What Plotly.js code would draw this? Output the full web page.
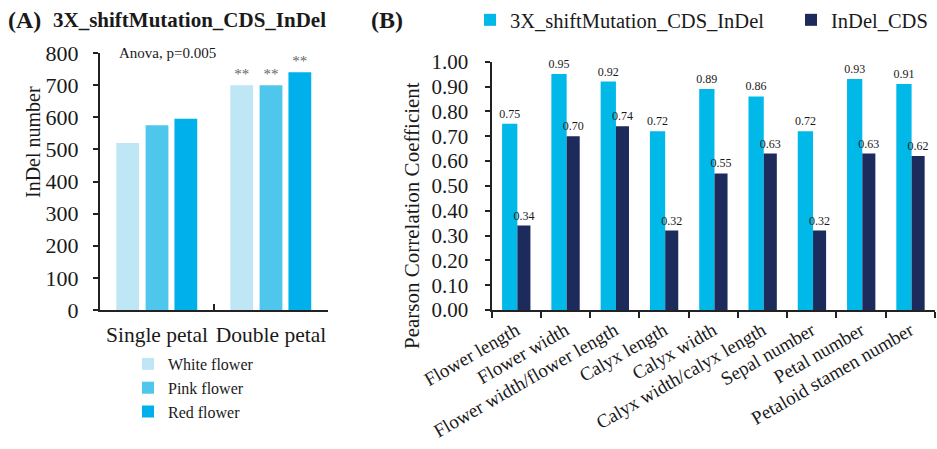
<!DOCTYPE html>
<html>
<head>
<meta charset="utf-8">
<script src="https://cdn.plot.ly/plotly-3.0.1.min.js"></script>
<style>
  html, body { margin: 0; padding: 0; background: #ffffff; }
  #chart { width: 937px; height: 449px; }
</style>
</head>
<body>
<div id="chart"></div>
<script>
// Panel A: InDel counts by petal type and flower colour
const petalTypes = ['Single petal', 'Double petal'];
const whiteFlower = [520, 700];
const pinkFlower = [575, 700];
const redFlower = [595, 740];
const significance = ['', '**'];
const countTicks = [0, 100, 200, 300, 400, 500, 600, 700, 800];

// Panel B: Pearson correlation of InDel sets with floral traits
const traits = ['Flower length', 'Flower width', 'Flower width/flower length', 'Calyx length',
  'Calyx width', 'Calyx width/calyx length', 'Sepal number', 'Petal number', 'Petaloid stamen number'];
const shiftMutationInDel = [0.75, 0.95, 0.92, 0.72, 0.89, 0.86, 0.72, 0.93, 0.91];
const cdsInDel = [0.34, 0.70, 0.74, 0.32, 0.55, 0.63, 0.32, 0.63, 0.62];

const W = 937, H = 449;
const px = x => x / W;            // horizontal pixel -> paper
const py = y => (H - y) / H;      // vertical pixel (from top) -> paper

const serif = "'Liberation Serif', 'Times New Roman', serif";
const ink = '#1a1a1a';

const barA = (name, y, color, offset) => ({
  type: 'bar', name: name, x: petalTypes, y: y,
  xaxis: 'x', yaxis: 'y', legend: 'legend2',
  marker: { color: color, line: { width: 0 } },
  offset: offset, width: 0.2,
  text: significance, textposition: 'outside', cliponaxis: false, constraintext: 'none',
  textfont: { family: serif, size: 15, color: '#666666' },
  hoverinfo: 'skip'
});

const barB = (name, y, color, offset, width, legendId) => ({
  type: 'bar', name: name, x: traits, y: y,
  xaxis: 'x2', yaxis: 'y2', legend: legendId,
  marker: { color: color, line: { width: 0 } },
  offset: offset, width: width,
  texttemplate: '%{y:.2f}', textposition: 'outside', cliponaxis: false, constraintext: 'none',
  textfont: { family: serif, size: 12, color: ink },
  hoverinfo: 'skip'
});

const data = [
  barA('White flower', whiteFlower, '#BEE6F5', -0.357),
  barA('Pink flower', pinkFlower, '#4FC6EB', -0.1),
  barA('Red flower', redFlower, '#00B0EA', 0.153),
  barB('3X_shiftMutation_CDS_InDel', shiftMutationInDel, '#00B9E8', -0.285, 0.31, 'legend'),
  barB('InDel_CDS', cdsInDel, '#1C2A5C', 0.025, 0.265, 'legend3')
];

const legendFontB = { family: serif, size: 20.5, color: ink };

const layout = {
  width: W, height: H,
  margin: { l: 0, r: 0, t: 0, b: 0 },
  paper_bgcolor: '#ffffff', plot_bgcolor: '#ffffff',
  font: { family: serif, color: ink },
  barmode: 'overlay',
  showlegend: true,
  title: {
    text: '<b>3X_shiftMutation_CDS_InDel</b>',
    font: { family: serif, size: 21, color: ink },
    x: px(53), xanchor: 'left', xref: 'container',
    y: py(20), yanchor: 'middle', yref: 'container'
  },
  xaxis: {
    domain: [px(100), px(328)],
    type: 'category',
    showline: true, linecolor: '#222222', linewidth: 2,
    ticks: 'inside', tickson: 'boundaries', ticklen: 6, tickwidth: 2, tickcolor: '#222222',
    tickangle: 0,
    tickfont: { family: serif, size: 21.5, color: ink },
    ticklabelstandoff: 4,
    showgrid: false, zeroline: false, fixedrange: true
  },
  yaxis: {
    domain: [py(310), py(53)],
    range: [0, 800],
    tickvals: countTicks,
    showline: true, linecolor: '#222222', linewidth: 2,
    ticks: 'outside', ticklen: 5, tickwidth: 2, tickcolor: '#222222',
    tickfont: { family: serif, size: 22, color: ink },
    ticklabelstandoff: 10,
    showgrid: false, zeroline: false, fixedrange: true
  },
  xaxis2: {
    domain: [px(491.5), px(935)],
    anchor: 'y2',
    type: 'category',
    showline: true, linecolor: '#222222', linewidth: 2,
    ticks: 'outside', tickson: 'boundaries', ticklen: 6, tickwidth: 2, tickcolor: '#222222',
    tickangle: -30,
    tickfont: { family: serif, size: 19, color: ink },
    showgrid: false, zeroline: false, fixedrange: true
  },
  yaxis2: {
    domain: [py(310), py(61.7)],
    anchor: 'x2',
    range: [0, 1],
    dtick: 0.1, tick0: 0, tickformat: '.2f',
    showline: true, linecolor: '#222222', linewidth: 2,
    ticks: 'outside', ticklen: 5, tickwidth: 2, tickcolor: '#222222',
    tickfont: { family: serif, size: 21, color: ink },
    ticklabelstandoff: 12,
    showgrid: false, zeroline: false, fixedrange: true
  },
  legend: {
    orientation: 'h',
    x: px(470), xanchor: 'left',
    y: py(0), yanchor: 'top',
    font: legendFontB,
    bgcolor: 'rgba(0,0,0,0)'
  },
  legend3: {
    orientation: 'h',
    x: px(791), xanchor: 'left',
    y: py(0), yanchor: 'top',
    font: legendFontB,
    bgcolor: 'rgba(0,0,0,0)'
  },
  legend2: {
    orientation: 'v',
    x: px(128), xanchor: 'left',
    y: py(347), yanchor: 'top',
    font: { family: serif, size: 16, color: ink },
    bgcolor: 'rgba(0,0,0,0)', traceorder: 'normal'
  },
  annotations: [
    { text: '<b>(A)</b>', xref: 'paper', yref: 'paper', x: px(6), y: py(20),
      xanchor: 'left', yanchor: 'middle', showarrow: false,
      font: { family: serif, size: 24, color: ink } },
    { text: '<b>(B)</b>', xref: 'paper', yref: 'paper', x: px(369), y: py(20),
      xanchor: 'left', yanchor: 'middle', showarrow: false,
      font: { family: serif, size: 24, color: ink } },
    { text: 'Anova, p=0.005', xref: 'paper', yref: 'paper', x: px(117), y: py(53),
      xanchor: 'left', yanchor: 'middle', showarrow: false,
      font: { family: serif, size: 15, color: ink } },
    { text: 'InDel number', xref: 'paper', yref: 'paper', x: px(33), y: py(142),
      xanchor: 'center', yanchor: 'middle', textangle: -90, showarrow: false,
      font: { family: serif, size: 20, color: ink } },
    { text: 'Pearson Correlation Coefficient', xref: 'paper', yref: 'paper', x: px(412), y: py(216),
      xanchor: 'center', yanchor: 'middle', textangle: -90, showarrow: false,
      font: { family: serif, size: 21, color: ink } }
  ]
};

Plotly.newPlot('chart', data, layout, { staticPlot: true, displayModeBar: false });
</script>
</body>
</html>
